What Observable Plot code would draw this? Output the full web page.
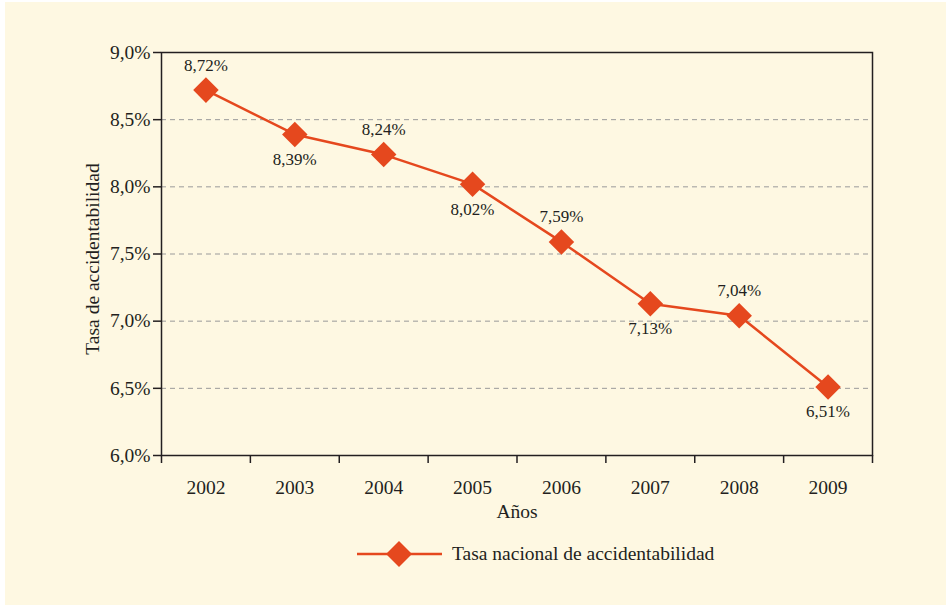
<!DOCTYPE html>
<html>
<head>
<meta charset="utf-8">
<script src="https://cdn.jsdelivr.net/npm/d3@7"></script>
<script src="https://cdn.jsdelivr.net/npm/@observablehq/plot@0.6"></script>
<style>
  html, body { margin: 0; padding: 0; background: #FFFFFF; }
  #chart { position: absolute; left: 5px; top: 2px; width: 941px; height: 603px; background: #FEF8E2; font-family: "Liberation Serif", serif; color: #231F20; }
  .legend { display: flex; align-items: center; height: 48px; margin-left: 352px; font-size: 19.5px; }
  .legend span { margin-left: 10px; }
</style>
</head>
<body>
<div id="chart"></div>
<script>
const years = [2002, 2003, 2004, 2005, 2006, 2007, 2008, 2009];
const rates = [8.72, 8.39, 8.24, 8.02, 7.59, 7.13, 7.04, 6.51];
const labelPos = ["above", "below", "above", "below", "above", "below", "above", "below"];
const yTicks = [6.0, 6.5, 7.0, 7.5, 8.0, 8.5, 9.0];
const gridTicks = [6.5, 7.0, 7.5, 8.0, 8.5];
const xBoundaries = [2001.5, 2002.5, 2003.5, 2004.5, 2005.5, 2006.5, 2007.5, 2008.5, 2009.5];
const seriesName = "Tasa nacional de accidentabilidad";
const xTitle = "Años";
const yTitle = "Tasa de accidentabilidad";

const color = "#E5481E";
const ink = "#231F20";
const fmtPct = d => d.toFixed(2).replace(".", ",") + "%";
const fmtTick = d => d.toFixed(1).replace(".", ",") + "%";

const data = years.map((y, i) => ({year: y, rate: rates[i], pos: labelPos[i]}));

const plot = Plot.plot({
  width: 941,
  height: 528,
  marginLeft: 156,
  marginRight: 74,
  marginTop: 50,
  marginBottom: 75,
  style: {background: "transparent", fontFamily: "Liberation Serif, serif", color: ink, overflow: "visible"},
  x: {domain: [2001.5, 2009.5]},
  y: {domain: [6, 9]},
  marks: [
    Plot.ruleY(gridTicks, {stroke: "#9a9a9a", strokeWidth: 1, strokeDasharray: "5,4"}),
    Plot.frame({stroke: ink, strokeWidth: 1.5}),
    Plot.axisY(yTicks, {tickSize: 8, tickPadding: 3, tickFormat: fmtTick, fontSize: 19.5, stroke: ink, strokeWidth: 1.5, label: null}),
    Plot.axisX(xBoundaries, {tickSize: 8, tickFormat: () => "", stroke: ink, strokeWidth: 1.5, label: null}),
    Plot.axisX(years, {tickSize: 0, tickPadding: 25, tickFormat: d => String(d), fontSize: 19.5, label: null}),
    Plot.text([yTitle], {frameAnchor: "left", textAnchor: "middle", dx: -69, dy: 5, rotate: -90, fontSize: 19.5, fill: ink}),
    Plot.text([xTitle], {frameAnchor: "bottom", dy: 62, fontSize: 19.5, fill: ink}),
    Plot.line(data, {x: "year", y: "rate", stroke: color, strokeWidth: 2.5}),
    Plot.dot(data, {x: "year", y: "rate", symbol: "diamond2", r: 11.5, fill: color, stroke: "none"}),
    Plot.text(data.filter(d => d.pos === "above"), {x: "year", y: "rate", text: d => fmtPct(d.rate), dy: -25, fontSize: 17, fill: ink}),
    Plot.text(data.filter(d => d.pos === "below"), {x: "year", y: "rate", text: d => fmtPct(d.rate), dy: 25, fontSize: 17, fill: ink})
  ]
});
document.getElementById("chart").appendChild(plot);

const legend = document.createElement("div");
legend.className = "legend";
legend.innerHTML = `<svg width="85" height="30"><line x1="0" y1="15" x2="85" y2="15" stroke="${color}" stroke-width="2.5"/><path d="M42,2 L55,15 L42,28 L29,15 Z" fill="${color}"/></svg><span>${seriesName}</span>`;
document.getElementById("chart").appendChild(legend);
</script>
</body>
</html>
